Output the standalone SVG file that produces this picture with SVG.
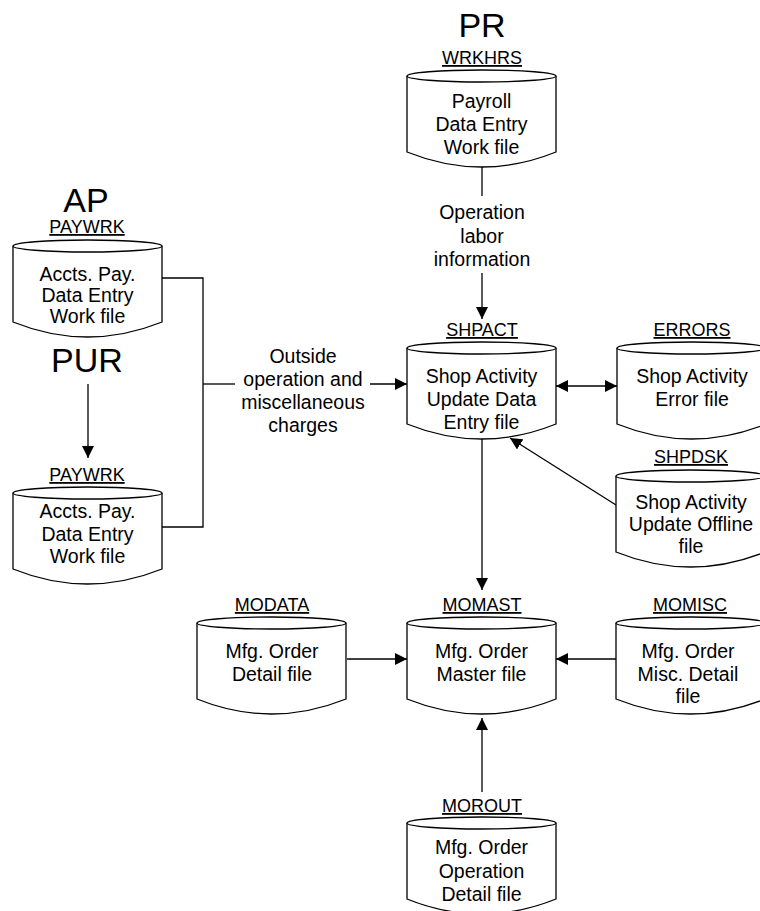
<svg xmlns="http://www.w3.org/2000/svg" xmlns:xlink="http://www.w3.org/1999/xlink" width="760" height="911" viewBox="0 0 760 911">
<style>
text{font-family:"Liberation Sans",Arial,sans-serif;text-anchor:middle;fill:#000}
.big{font-size:34px}
.lbl{font-size:18px;text-decoration:underline}
.txt{font-size:19.5px}
.cyl{fill:#fff;stroke:#000;stroke-width:1.3}
.ln{fill:none;stroke:#000;stroke-width:1.3}
</style>
<defs>
<g id="cylshape">
<path class="cyl" d="M0,6 V82 Q74.5,112 149,82 V6"/>
<ellipse class="cyl" cx="74.5" cy="6" rx="74.5" ry="6"/>
</g>
<marker id="ah" viewBox="0 0 12 12" refX="12" refY="6" markerWidth="12" markerHeight="12" markerUnits="userSpaceOnUse" orient="auto-start-reverse">
<path d="M0,0 L12,6 L0,12 Z" fill="#000"/>
</marker>
</defs>

<g id="connectors">
<line class="ln" x1="482" y1="167" x2="482" y2="196"/>
<line class="ln" x1="482" y1="273" x2="482" y2="319" marker-end="url(#ah)"/>
<polyline class="ln" points="161,278 203,278 203,527 161,527"/>
<line class="ln" x1="203" y1="384" x2="235" y2="384"/>
<line class="ln" x1="370" y1="384" x2="407" y2="384" marker-end="url(#ah)"/>
<line class="ln" x1="88" y1="384" x2="88" y2="458" marker-end="url(#ah)"/>
<line class="ln" x1="556" y1="386" x2="617" y2="386" marker-start="url(#ah)" marker-end="url(#ah)"/>
<line class="ln" x1="616" y1="505" x2="510" y2="438" marker-end="url(#ah)"/>
<line class="ln" x1="482" y1="438" x2="482" y2="590" marker-end="url(#ah)"/>
<line class="ln" x1="347" y1="659" x2="407" y2="659" marker-end="url(#ah)"/>
<line class="ln" x1="616" y1="659" x2="556" y2="659" marker-end="url(#ah)"/>
<line class="ln" x1="482" y1="792" x2="482" y2="718" marker-end="url(#ah)"/>
<text class="txt" x="482" y="219">Operation</text>
<text class="txt" x="482" y="243">labor</text>
<text class="txt" x="482" y="266">information</text>
<text class="txt" x="303" y="363">Outside</text>
<text class="txt" x="303" y="386">operation and</text>
<text class="txt" x="303" y="409">miscellaneous</text>
<text class="txt" x="303" y="432">charges</text>
</g>

<g id="wrkhrs">
<text class="big" x="482" y="37">PR</text>
<text class="lbl" x="482" y="64">WRKHRS</text>
<use xlink:href="#cylshape" x="407" y="70"/>
<text class="txt" x="481.5" y="108">Payroll</text>
<text class="txt" x="481.5" y="131">Data Entry</text>
<text class="txt" x="481.5" y="154">Work file</text>
</g>

<g id="paywrk-ap">
<text class="big" x="86" y="212">AP</text>
<text class="lbl" x="87" y="233">PAYWRK</text>
<use xlink:href="#cylshape" x="13" y="240"/>
<text class="txt" x="87.5" y="281">Accts. Pay.</text>
<text class="txt" x="87.5" y="302">Data Entry</text>
<text class="txt" x="87.5" y="323">Work file</text>
</g>

<g id="paywrk-pur">
<text class="big" x="87" y="372">PUR</text>
<text class="lbl" x="87" y="481">PAYWRK</text>
<use xlink:href="#cylshape" x="13" y="487"/>
<text class="txt" x="87.5" y="518">Accts. Pay.</text>
<text class="txt" x="87.5" y="541">Data Entry</text>
<text class="txt" x="87.5" y="563">Work file</text>
</g>

<g id="shpact">
<text class="lbl" x="482" y="336">SHPACT</text>
<use xlink:href="#cylshape" x="407" y="342"/>
<text class="txt" x="481.5" y="383">Shop Activity</text>
<text class="txt" x="481.5" y="406">Update Data</text>
<text class="txt" x="481.5" y="429">Entry file</text>
</g>

<g id="errors">
<text class="lbl" x="692" y="336">ERRORS</text>
<use xlink:href="#cylshape" x="617" y="342"/>
<text class="txt" x="692" y="383">Shop Activity</text>
<text class="txt" x="692" y="406">Error file</text>
</g>

<g id="shpdsk">
<text class="lbl" x="691" y="463">SHPDSK</text>
<use xlink:href="#cylshape" x="616" y="470"/>
<text class="txt" x="691" y="509">Shop Activity</text>
<text class="txt" x="691" y="531">Update Offline</text>
<text class="txt" x="691" y="553">file</text>
</g>

<g id="modata">
<text class="lbl" x="272" y="611">MODATA</text>
<use xlink:href="#cylshape" x="197" y="617"/>
<text class="txt" x="272" y="658">Mfg. Order</text>
<text class="txt" x="272" y="681">Detail file</text>
</g>

<g id="momast">
<text class="lbl" x="482" y="611">MOMAST</text>
<use xlink:href="#cylshape" x="407" y="617"/>
<text class="txt" x="481.5" y="658">Mfg. Order</text>
<text class="txt" x="481.5" y="681">Master file</text>
</g>

<g id="momisc">
<text class="lbl" x="690" y="611">MOMISC</text>
<use xlink:href="#cylshape" x="616" y="617"/>
<text class="txt" x="688" y="658">Mfg. Order</text>
<text class="txt" x="688" y="681">Misc. Detail</text>
<text class="txt" x="688" y="703">file</text>
</g>

<g id="morout">
<text class="lbl" x="482" y="812">MOROUT</text>
<use xlink:href="#cylshape" x="407" y="817"/>
<text class="txt" x="481.5" y="854">Mfg. Order</text>
<text class="txt" x="481.5" y="878">Operation</text>
<text class="txt" x="481.5" y="901">Detail file</text>
</g>
</svg>
